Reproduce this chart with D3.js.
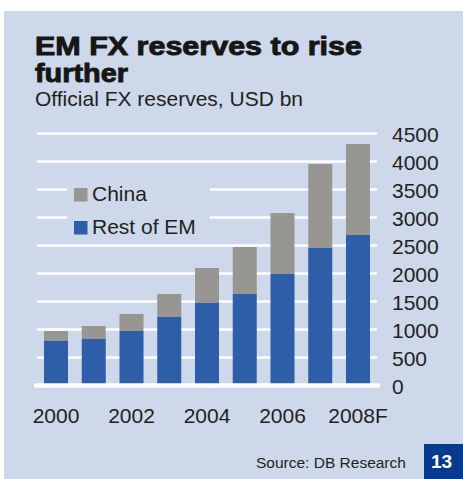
<!DOCTYPE html>
<html>
<head>
<meta charset="utf-8">
<script src="https://cdn.jsdelivr.net/npm/d3@7"></script>
<style>
  html, body { margin: 0; padding: 0; background: #ffffff; }
  svg { display: block; }
  text { font-family: "Liberation Sans", Arial, Helvetica, sans-serif; fill: #231f20; }
</style>
</head>
<body>
<svg id="chart" width="463" height="479"></svg>
<script>
// ---- data ----
const categories = ["2000","2001","2002","2003","2004","2005","2006","2007","2008F"];
const restOfEM   = [795, 830, 973, 1223, 1473, 1634, 1991, 2455, 2687];
const china      = [178, 232, 304, 411, 625, 839, 1089, 1500, 1626];
const seriesNames = ["China", "Rest of EM"];
const yTicks = [0, 500, 1000, 1500, 2000, 2500, 3000, 3500, 4000, 4500];
const xTickLabels = ["2000", "2002", "2004", "2006", "2008F"];

// ---- styles ----
const panelColor = "#cdd8ea";
const blue = "#2f5ea8";
const gray = "#989693";

const svg = d3.select("#chart");

// panel
svg.append("rect").attr("x", 4).attr("y", 11).attr("width", 459).attr("height", 468).attr("fill", panelColor);

// title
svg.append("text").attr("x", 35).attr("y", 55)
  .attr("font-size", 25).attr("font-weight", 900)
  .attr("textLength", 327).attr("lengthAdjust", "spacingAndGlyphs")
  .style("fill", "#161616").style("stroke", "#161616").style("stroke-width", 0.9)
  .text("EM FX reserves to rise");
svg.append("text").attr("x", 35).attr("y", 82)
  .attr("font-size", 25).attr("font-weight", 900)
  .attr("textLength", 93).attr("lengthAdjust", "spacingAndGlyphs")
  .style("fill", "#161616").style("stroke", "#161616").style("stroke-width", 0.9)
  .text("further");
svg.append("text").attr("x", 35).attr("y", 106)
  .attr("font-size", 21)
  .text("Official FX reserves, USD bn");

// scales
const x = d3.scaleBand().domain(categories).range([44, 370]).paddingInner(0.364).paddingOuter(0);
const y = d3.scaleLinear().domain([0, 4500]).range([385.5, 133.5]);

// gridlines
svg.append("g").selectAll("line").data(yTicks.filter(d => d > 0)).join("line")
  .attr("x1", 37).attr("x2", 377)
  .attr("y1", d => y(d)).attr("y2", d => y(d))
  .attr("stroke", "#ffffff").attr("stroke-width", 2.5);

// legend background (interrupts gridlines)
svg.append("rect").attr("x", 67).attr("y", 172).attr("width", 143).attr("height", 66).attr("fill", panelColor);

// stacked bars
const rows = categories.map((c, i) => ({ cat: c, "Rest of EM": restOfEM[i], "China": china[i] }));
const stack = d3.stack().keys(["Rest of EM", "China"]);
const stacked = stack(rows);
const colorOf = { "Rest of EM": blue, "China": gray };
svg.append("g").selectAll("g").data(stacked).join("g")
  .attr("fill", d => colorOf[d.key])
  .selectAll("rect").data(d => d).join("rect")
  .attr("x", d => x(d.data.cat))
  .attr("width", x.bandwidth())
  .attr("y", d => y(d[1]))
  .attr("height", d => y(d[0]) - y(d[1]));

// zero line
svg.append("line").attr("x1", 36).attr("x2", 378)
  .attr("y1", y(0)).attr("y2", y(0))
  .attr("stroke", "#ffffff").attr("stroke-width", 4.5).attr("stroke-linecap", "round");

// y axis labels (right side)
const yAxis = d3.axisRight(y).tickValues(yTicks).tickSize(0).tickPadding(0).tickFormat(d3.format("d"));
const yg = svg.append("g").attr("transform", "translate(392,0)").call(yAxis);
yg.select(".domain").remove();
yg.selectAll("text").attr("font-size", 21).attr("font-family", null).style("fill", "#231f20").attr("dy", "0.36em").attr("x", 0);

// x axis labels
const xAxis = d3.axisBottom(x).tickValues(xTickLabels).tickSize(0).tickPadding(0);
const xg = svg.append("g").attr("transform", "translate(0,408)").call(xAxis);
xg.select(".domain").remove();
xg.selectAll("text").attr("font-size", 21).attr("font-family", null).style("fill", "#231f20").attr("dy", "0.71em").attr("y", 0);

// legend
const legendItems = [
  { name: seriesNames[0], color: gray, y: 188 },
  { name: seriesNames[1], color: blue, y: 221 }
];
const lg = svg.append("g");
lg.selectAll("rect").data(legendItems).join("rect")
  .attr("x", 74).attr("y", d => d.y).attr("width", 13.5).attr("height", 13.5).attr("fill", d => d.color);
lg.selectAll("text").data(legendItems).join("text")
  .attr("x", 92).attr("y", d => d.y + 12.5).attr("font-size", 21).text(d => d.name);

// source
svg.append("text").attr("x", 256).attr("y", 468).attr("font-size", 15.5).text("Source: DB Research");

// page number box
svg.append("rect").attr("x", 424).attr("y", 444).attr("width", 39).attr("height", 35).attr("fill", "#063a8f");
svg.append("text").attr("x", 441.5).attr("y", 468).attr("text-anchor", "middle")
  .attr("font-size", 19).attr("font-weight", "bold").style("fill", "#ffffff").text("13");
</script>
</body>
</html>
